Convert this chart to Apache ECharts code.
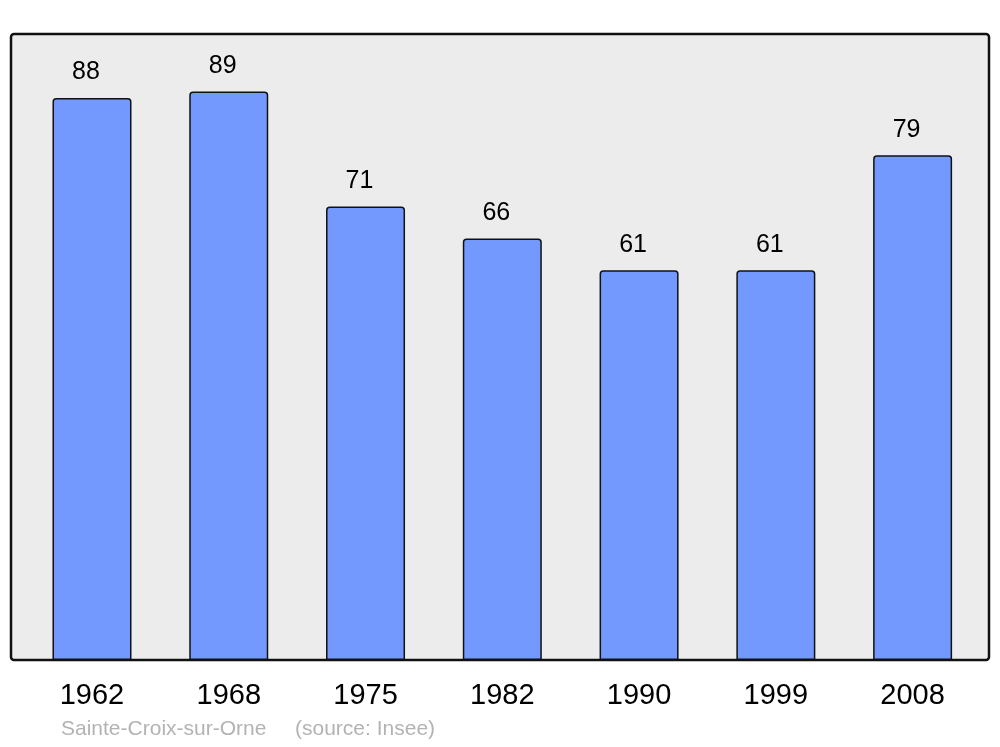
<!DOCTYPE html>
<html>
<head>
<meta charset="utf-8">
<script src="https://cdn.jsdelivr.net/npm/echarts@6/dist/echarts.min.js"></script>
<style>
  html, body { margin: 0; padding: 0; background: #fff; }
  #popChart { width: 1000px; height: 747px; }
</style>
</head>
<body>
<div id="popChart"></div>
<script>
// population per census year
const years = ['1962', '1968', '1975', '1982', '1990', '1999', '2008'];
const population = [88, 89, 71, 66, 61, 61, 79];
const townName = 'Sainte-Croix-sur-Orne';
const sourceText = '(source: Insee)';

const chart = echarts.init(document.getElementById('popChart'));
const option = {
    animation: false,
    textStyle: { fontFamily: 'Liberation Sans, Arial, sans-serif' },
    grid: {
        left: 23.6,
        right: 19,
        top: 34,
        bottom: 87
    },
    graphic: [
        {
            type: 'rect',
            z: -10,
            shape: { x: 11, y: 34, width: 978, height: 626, r: 3 },
            style: { fill: '#ececec', stroke: '#111', lineWidth: 2.5 }
        },
        {
            type: 'text',
            left: 61,
            top: 719,
            style: { text: townName, fill: '#b3b3b3', font: '21px Liberation Sans' }
        },
        {
            type: 'text',
            left: 295,
            top: 719,
            style: { text: sourceText, fill: '#b3b3b3', font: '21px Liberation Sans' }
        }
    ],
    xAxis: {
        type: 'category',
        data: years,
        axisLine: { show: false },
        axisTick: { show: false },
        axisLabel: { color: '#000', fontSize: 29, margin: 21 }
    },
    yAxis: {
        type: 'value',
        min: 0,
        max: 98,
        show: false
    },
    series: [{
        type: 'bar',
        data: population,
        barWidth: 79,
        itemStyle: {
            color: '#7399ff',
            borderColor: '#111',
            borderWidth: 1.5,
            borderRadius: [3, 3, 0, 0]
        },
        label: {
            show: true,
            position: 'top',
            distance: 13,
            offset: [-6, 0],
            color: '#000',
            fontSize: 25
        }
    }]
};
option && chart.setOption(option);
</script>
</body>
</html>
